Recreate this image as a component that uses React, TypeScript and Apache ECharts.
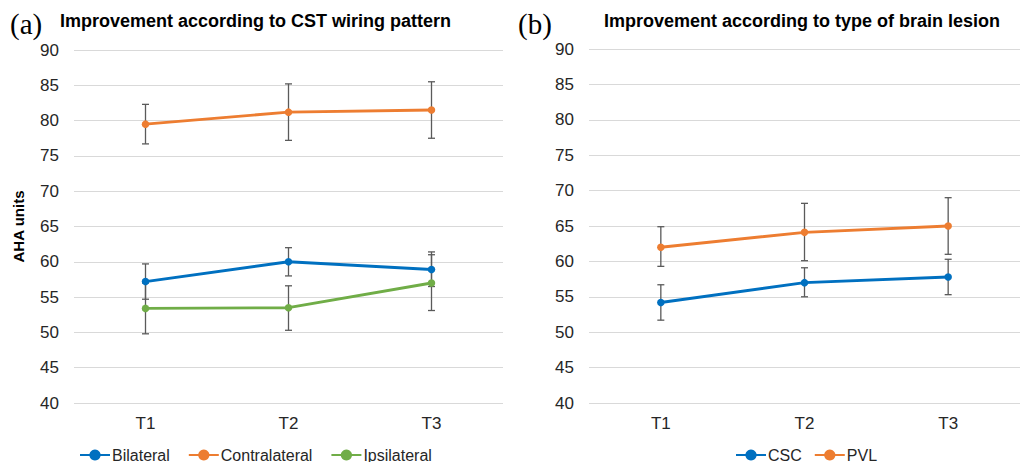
import React, { useEffect, useRef } from "react";
import * as echarts from "echarts";

const categories = ["T1", "T2", "T3"];
const yTicks = [40, 90, 5];

const bilateralMean = [57.2, 60.0, 58.9];
const bilateralLow = [54.7, 58.0, 56.5];
const bilateralHigh = [59.7, 62.0, 61.4];

const contraMean = [79.5, 81.2, 81.5];
const contraLow = [76.7, 77.2, 77.5];
const contraHigh = [82.3, 85.2, 85.5];

const ipsiMean = [53.4, 53.5, 57.0];
const ipsiLow = [49.8, 50.3, 53.1];
const ipsiHigh = [57.0, 56.6, 61.0];

const cscMean = [54.2, 57.0, 57.8];
const cscLow = [51.7, 55.0, 55.3];
const cscHigh = [56.7, 59.1, 60.3];

const pvlMean = [62.0, 64.1, 65.0];
const pvlLow = [59.3, 60.1, 61.0];
const pvlHigh = [64.9, 68.2, 69.0];

const BLUE = "#0070C0";
const ORANGE = "#ED7D31";
const GREEN = "#70AD47";
const FONT = "'Liberation Sans', Arial, sans-serif";
const SERIF = "'Liberation Serif', 'Times New Roman', serif";

function errorSeries(idx: number, low: number[], high: number[]) {
  return {
    type: "custom",
    xAxisIndex: idx,
    yAxisIndex: idx,
    z: 1,
    silent: true,
    data: categories.map((_, i) => [i, low[i], high[i]]),
    renderItem: (params: any, api: any) => {
      const x = api.value(0);
      const lo = api.coord([x, api.value(1)]);
      const hi = api.coord([x, api.value(2)]);
      const cap = 3.5;
      const style = { stroke: "#5a5a5a", lineWidth: 1.3 };
      return {
        type: "group",
        children: [
          { type: "line", shape: { x1: lo[0], y1: lo[1], x2: hi[0], y2: hi[1] }, style },
          { type: "line", shape: { x1: lo[0] - cap, y1: lo[1], x2: lo[0] + cap, y2: lo[1] }, style },
          { type: "line", shape: { x1: hi[0] - cap, y1: hi[1], x2: hi[0] + cap, y2: hi[1] }, style },
        ],
      };
    },
  };
}

function lineSeries(idx: number, name: string, color: string, data: number[]) {
  return {
    type: "line",
    name,
    xAxisIndex: idx,
    yAxisIndex: idx,
    z: 3,
    data,
    symbol: "circle",
    symbolSize: 7.5,
    lineStyle: { color, width: 2.9 },
    itemStyle: { color },
  };
}

function xAxis(idx: number) {
  return {
    type: "category",
    gridIndex: idx,
    data: categories,
    boundaryGap: true,
    axisLine: { show: false },
    axisTick: { show: false },
    axisLabel: { color: "#262626", fontSize: 17, fontFamily: FONT, margin: 12 },
  };
}

function yAxis(idx: number, withName: boolean) {
  return {
    type: "value",
    gridIndex: idx,
    min: yTicks[0],
    max: yTicks[1],
    interval: yTicks[2],
    name: withName ? "AHA units" : "",
    nameLocation: "middle",
    nameGap: 48,
    nameRotate: 90,
    nameTextStyle: { fontWeight: "bold", fontSize: 15, fontFamily: FONT, color: "#000" },
    axisLine: { show: false },
    axisTick: { show: false },
    axisLabel: { color: "#262626", fontSize: 17, fontFamily: FONT, margin: 15 },
    splitLine: { lineStyle: { color: "#d9d9d9", width: 1 } },
  };
}

export default function App() {
  const ref = useRef<HTMLDivElement>(null);
  useEffect(() => {
    document.body.style.margin = "0";
    const chart = echarts.init(ref.current!, null, { renderer: "svg" });
    chart.setOption({
      animation: false,
      backgroundColor: "#ffffff",
      title: [
        { text: "(a)", left: 10, top: 9, padding: 0, textStyle: { fontFamily: SERIF, fontSize: 29, fontWeight: "normal", color: "#000" } },
        { text: "Improvement according to CST wiring pattern", left: 60, top: 12, padding: 0, textStyle: { fontFamily: FONT, fontSize: 18, fontWeight: "bold", color: "#000" } },
        { text: "(b)", left: 518, top: 9, padding: 0, textStyle: { fontFamily: SERIF, fontSize: 29, fontWeight: "normal", color: "#000" } },
        { text: "Improvement according to type of brain lesion", left: 604, top: 12, padding: 0, textStyle: { fontFamily: FONT, fontSize: 18, fontWeight: "bold", color: "#000" } },
      ],
      legend: [
        {
          data: ["Bilateral", "Contralateral", "Ipsilateral"],
          left: 79, top: 447, padding: 0, itemWidth: 30, itemHeight: 14, itemGap: 18,
          textStyle: { fontSize: 16, fontFamily: FONT, color: "#262626", padding: [0, 0, 0, -3] },
        },
        {
          data: ["CSC", "PVL"],
          left: 735, top: 447, padding: 0, itemWidth: 30, itemHeight: 14, itemGap: 12,
          textStyle: { fontSize: 16, fontFamily: FONT, color: "#262626", padding: [0, 0, 0, -3] },
        },
      ],
      grid: [
        { left: 74, top: 50, width: 429, height: 353 },
        { left: 589, top: 49, width: 440, height: 354 },
      ],
      xAxis: [xAxis(0), xAxis(1)],
      yAxis: [yAxis(0, true), yAxis(1, false)],
      series: [
        errorSeries(0, bilateralLow, bilateralHigh),
        errorSeries(0, contraLow, contraHigh),
        errorSeries(0, ipsiLow, ipsiHigh),
        lineSeries(0, "Bilateral", BLUE, bilateralMean),
        lineSeries(0, "Contralateral", ORANGE, contraMean),
        lineSeries(0, "Ipsilateral", GREEN, ipsiMean),
        errorSeries(1, cscLow, cscHigh),
        errorSeries(1, pvlLow, pvlHigh),
        lineSeries(1, "CSC", BLUE, cscMean),
        lineSeries(1, "PVL", ORANGE, pvlMean),
      ],
    });
    return () => chart.dispose();
  }, []);
  return <div ref={ref} style={{ width: 1020, height: 462 }} />;
}
